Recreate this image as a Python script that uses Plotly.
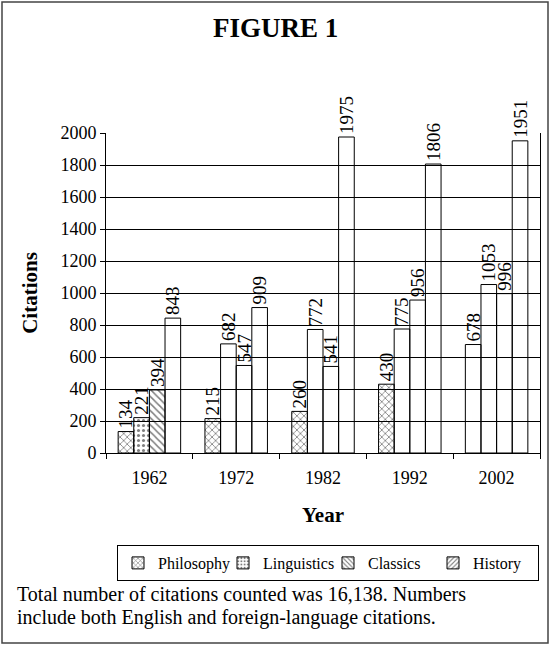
import plotly.graph_objects as go

years = ["1962", "1972", "1982", "1992", "2002"]
series = ["Philosophy", "Linguistics", "Classics", "History"]
philosophy = [134, 215, 260, 430, 678]
linguistics = [221, 682, 772, 775, 1053]
classics = [394, 547, 541, 956, 996]
history = [843, 909, 1975, 1806, 1951]
values = [philosophy, linguistics, classics, history]

caption_lines = ["Total number of citations counted was 16,138. Numbers",
                 "include both English and foreign-language citations."]

# per-bar fill patterns (as drawn in the original)
bar_patterns = [
    ["x", "x", "x", "x", ""],
    [".", "", "", "", ""],
    ["\\", "", "", "", ""],
    ["", "", "", "", ""],
]
legend_patterns = ["x", ".", "\\", "/"]

FONT = "Liberation Serif"
W, H = 551, 646
ML, MR, MT, MB = 106, 11, 133, 193
PW, PH = W - ML - MR, H - MT - MB


def px_x(p):
    return (p - ML) / PW


def px_y(p):
    return (H - MB - p) / PH


fig = go.Figure()
for name, vals, pats in zip(series, values, bar_patterns):
    fig.add_trace(go.Bar(
        x=years, y=vals, name=name, showlegend=False,
        marker=dict(color="rgba(0,0,0,0)", line=dict(color="black", width=1),
                    pattern=dict(shape=pats, fgcolor="black", bgcolor="rgba(0,0,0,0)",
                                 size=5, solidity=0.3)),
        text=[str(v) for v in vals], textposition="outside", textangle=-90,
        constraintext="none", cliponaxis=False,
        textfont=dict(family=FONT, size=19, color="black"),
    ))

for name, pat in zip(series, legend_patterns):
    fig.add_trace(go.Bar(
        x=[None], y=[None], name=name, xaxis="x2", yaxis="y2",
        marker=dict(color="white", line=dict(color="black", width=1),
                    pattern=dict(shape=pat, fgcolor="black", bgcolor="white",
                                 size=4, solidity=0.35)),
    ))

fig.update_layout(
    width=W, height=H,
    margin=dict(l=ML, r=MR, t=MT, b=MB),
    paper_bgcolor="white", plot_bgcolor="rgba(0,0,0,0)",
    barmode="group", bargap=0.28, bargroupgap=0,
    font=dict(family=FONT, size=18, color="black"),
    xaxis=dict(type="category", showline=True, linecolor="black", linewidth=1,
               ticks="outside", tickson="boundaries", ticklen=5, tickcolor="black",
               showgrid=False, tickfont=dict(size=18), ticklabelstandoff=8,
               title=dict(text="<b>Year</b>", font=dict(size=21), standoff=20)),
    yaxis=dict(range=[0, 2000], dtick=200, showline=True, linecolor="black", linewidth=1,
               mirror=True, ticks="outside", ticklen=5, tickcolor="black",
               showgrid=True, gridcolor="black", gridwidth=1, zeroline=False,
               tickfont=dict(size=18),
               title=dict(text="<b>Citations</b>", font=dict(size=21), standoff=17)),
    xaxis2=dict(domain=[0, 0.001], anchor="y2", visible=False),
    yaxis2=dict(domain=[0, 0.001], anchor="x2", visible=False),
    legend=dict(orientation="h", x=px_x(328), xanchor="center", y=px_y(545), yanchor="top",
                bordercolor="black", borderwidth=1, font=dict(size=16),
                itemwidth=30, tracegroupgap=0, entrywidth=60, entrywidthmode="pixels"),
    showlegend=True,
)

fig.add_annotation(text="<b>FIGURE 1</b>", xref="paper", yref="paper",
                   x=px_x(275), y=px_y(28), xanchor="center", yanchor="middle",
                   showarrow=False, font=dict(size=27))
for line, yc in zip(caption_lines, [594, 617]):
    fig.add_annotation(text=line, xref="paper", yref="paper", x=px_x(15), y=px_y(yc),
                       xanchor="left", yanchor="middle", align="left", showarrow=False,
                       font=dict(size=20))
fig.add_shape(type="rect", xref="paper", yref="paper",
              x0=px_x(2), x1=px_x(548), y0=px_y(643), y1=px_y(2),
              line=dict(color="#444", width=1.5), layer="below")

fig.write_html("out.html", config={"displayModeBar": False},
               post_script="document.body.style.margin='0';")
